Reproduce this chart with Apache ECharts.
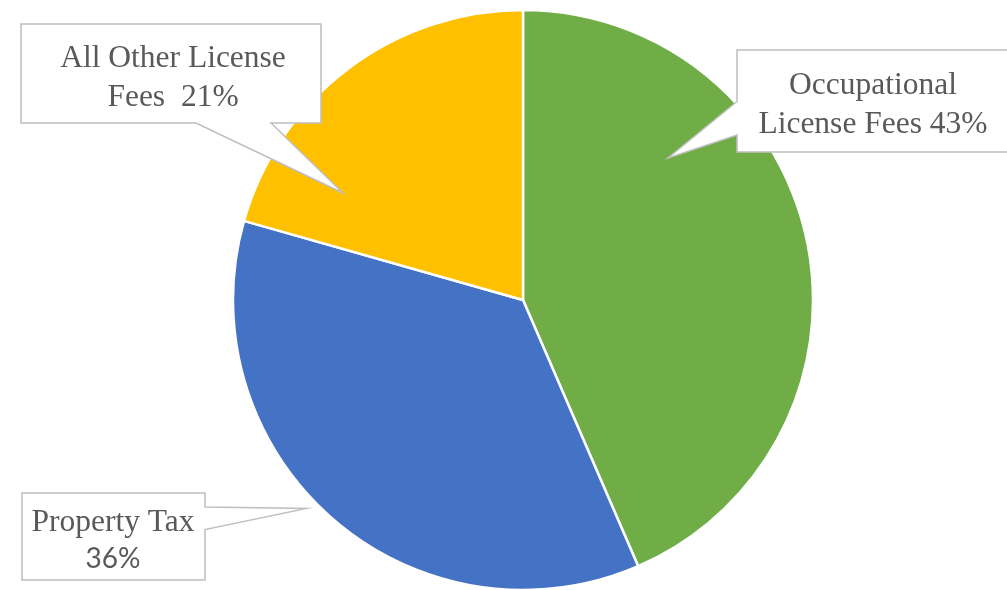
<!DOCTYPE html>
<html>
<head>
<meta charset="utf-8">
<script src="https://cdn.jsdelivr.net/npm/echarts@6/dist/echarts.min.js"></script>
<style>
html,body{margin:0;padding:0;background:#fff;}
#chart{width:1007px;height:590px;}
</style>
</head>
<body>
<div id="chart"></div>
<script>
// ---- data ----
const categories = ['Occupational\nLicense Fees', 'Property Tax', 'All Other License\nFees '];
const values = [43.5, 35.9, 20.6];
const sliceColors = ['#70AD47', '#4472C4', '#FFC000'];

// ---- layout (callout boxes, label anchors) ----
const labelPos = [
  { x: 873, y: 105.5 },
  { x: 113, y: 539.5 },
  { x: 173, y: 78 }
];
const calloutShapes = [
  [[737, 50], [1012, 50], [1012, 152], [737, 152], [737, 135], [668, 158], [737, 101.5]],
  [[22, 493], [205, 493], [205, 507], [306.5, 508.5], [205, 529.5], [205, 580], [22, 580]],
  [[21, 24], [321, 24], [321, 123], [271, 123], [343, 193], [196, 123], [21, 123]]
];

const chart = echarts.init(document.getElementById('chart'));
const pieData = categories.map((c, i) => ({ name: c, value: values[i], itemStyle: { color: sliceColors[i] } }));
const labelData = categories.map((c, i) => ({ name: c, value: values[i] }));

chart.setOption({
  animation: false,
  percentPrecision: 0,
  series: [
    {
      type: 'pie',
      z: 2,
      center: [523, 300],
      radius: 290,
      startAngle: 90,
      clockwise: true,
      avoidLabelOverlap: false,
      silent: true,
      label: { show: false },
      labelLine: { show: false },
      itemStyle: { borderColor: '#fff', borderWidth: 2.5 },
      emphasis: { disabled: true },
      data: pieData
    },
    {
      type: 'pie',
      z: 10,
      center: [523, 300],
      radius: 290,
      startAngle: 90,
      clockwise: true,
      avoidLabelOverlap: false,
      silent: true,
      percentPrecision: 0,
      itemStyle: { color: 'rgba(0,0,0,0)', borderWidth: 0 },
      emphasis: { disabled: true },
      labelLine: { show: false },
      label: {
        show: true,
        position: 'outside',
        color: '#595959',
        fontFamily: '"Liberation Serif", "Times New Roman", serif',
        fontSize: 31.5,
        lineHeight: 39,
        align: 'center',
        formatter: function (p) {
          if (p.dataIndex === 1) return p.name + '\n{s|' + p.percent + '%}';
          return p.name + ' ' + p.percent + '%';
        },
        rich: {
          s: {
            fontFamily: 'Lato, "Open Sans", sans-serif',
            fontSize: 28,
            lineHeight: 33,
            color: '#595959'
          }
        }
      },
      labelLayout: function (params) {
        const p = labelPos[params.dataIndex];
        return { x: p.x, y: p.y, align: 'center', verticalAlign: 'middle' };
      },
      data: labelData
    }
  ],
  graphic: calloutShapes.map(pts => ({
    type: 'polygon',
    z: 5,
    silent: true,
    shape: { points: pts },
    style: { fill: '#fff', stroke: '#BFBFBF', lineWidth: 1.5 }
  }))
});
</script>
</body>
</html>
